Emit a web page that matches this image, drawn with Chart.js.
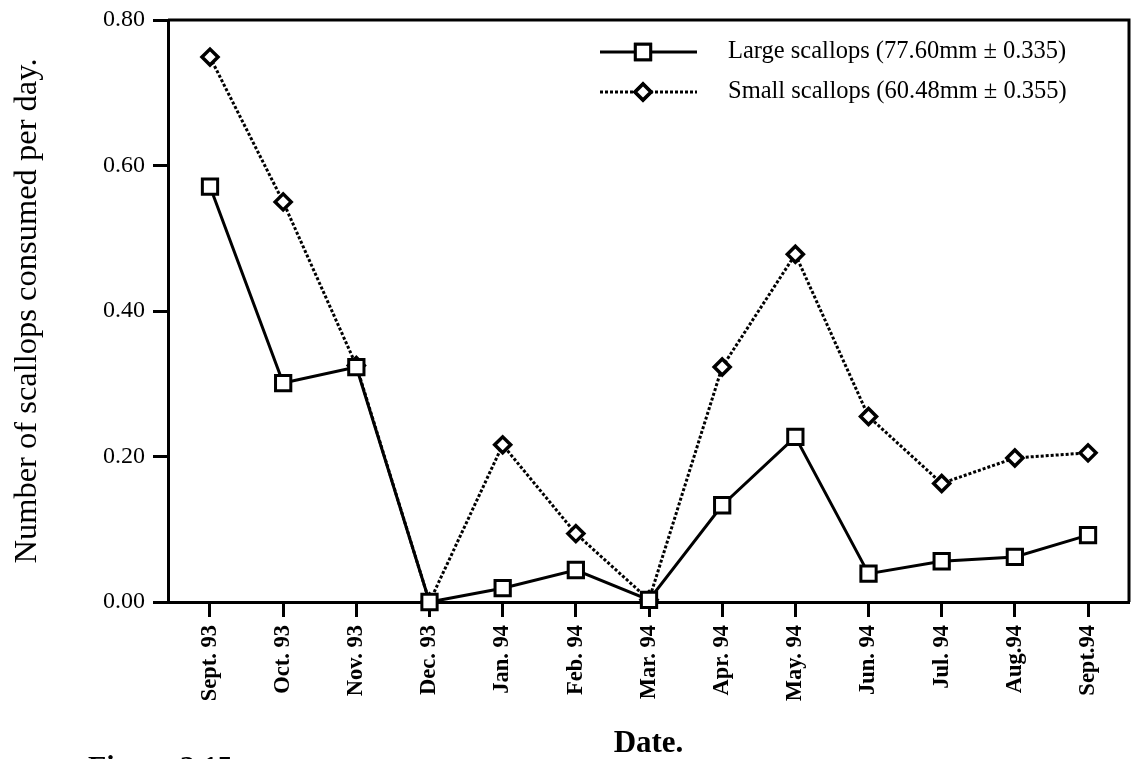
<!DOCTYPE html>
<html>
<head>
<meta charset="utf-8">
<script src="https://cdn.jsdelivr.net/npm/chart.js@4/dist/chart.umd.min.js"></script>
<style>
  html, body { margin: 0; padding: 0; background: #fff; }
  canvas { display: block; }
</style>
</head>
<body>
<canvas id="chart" width="1136" height="759"></canvas>
<script>
'use strict';

// month labels along the x axis
const MONTHS = ['Sept. 93', 'Oct. 93', 'Nov. 93', 'Dec. 93', 'Jan. 94', 'Feb. 94', 'Mar. 94',
                'Apr. 94', 'May. 94', 'Jun. 94', 'Jul. 94', 'Aug.94', 'Sept.94'];

// scallops consumed per day
const LARGE = [0.571, 0.301, 0.323, 0.000, 0.019, 0.044, 0.003, 0.133, 0.227, 0.039, 0.056, 0.062, 0.092];
const SMALL = [0.749, 0.550, 0.325, 0.000, 0.216, 0.094, 0.003, 0.323, 0.478, 0.255, 0.163, 0.198, 0.205];

const Y_TICKS = [0, 0.2, 0.4, 0.6, 0.8];

const LEGEND = [
  { label: 'Large scallops (77.60mm \u00b1 0.335)', style: 'rect',    dash: [],     r: 10.8, bw: 3 },
  { label: 'Small scallops (60.48mm \u00b1 0.355)', style: 'rectRot', dash: [3, 2], r: 8,    bw: 3.5 },
];

const SERIF = "'Liberation Serif', 'Times New Roman', serif";

const toPoints = arr => arr.map((v, i) => ({ x: i, y: v }));

// top + right frame, legend and the cut-off caption
const framePlugin = {
  id: 'frame',
  afterDraw(chart) {
    const { ctx, chartArea: a } = chart;
    ctx.save();
    ctx.strokeStyle = '#000';
    ctx.lineWidth = 3;
    ctx.beginPath();
    ctx.moveTo(a.left, a.top);
    ctx.lineTo(a.right, a.top);
    ctx.lineTo(a.right, a.bottom);
    ctx.stroke();

    LEGEND.forEach((item, i) => {
      const y = 52 + i * 40;
      ctx.lineWidth = 3;
      ctx.setLineDash(item.dash);
      ctx.beginPath();
      ctx.moveTo(600, y);
      ctx.lineTo(697, y);
      ctx.stroke();
      ctx.setLineDash([]);
      ctx.fillStyle = '#fff';
      ctx.lineWidth = item.bw;
      Chart.helpers.drawPoint(ctx, { pointStyle: item.style, radius: item.r, borderWidth: item.bw }, 643, y);
      ctx.fill();
      ctx.stroke();
      ctx.fillStyle = '#000';
      ctx.font = '24.5px ' + SERIF;
      ctx.textBaseline = 'middle';
      ctx.fillText(item.label, 728, y);
    });

    ctx.font = 'bold 30px ' + SERIF;
    ctx.textBaseline = 'alphabetic';
    ctx.fillText('Figure 3.15', 88, 776);
    ctx.restore();
  }
};

new Chart(document.getElementById('chart'), {
  type: 'line',
  data: {
    datasets: [
      {
        label: LEGEND[0].label,
        data: toPoints(LARGE),
        borderColor: '#000',
        borderWidth: 3,
        pointStyle: 'rect',
        pointRadius: 10.8,
        pointBorderWidth: 3,
        pointBackgroundColor: '#fff',
        pointBorderColor: '#000',
        tension: 0,
        clip: false,
      },
      {
        label: LEGEND[1].label,
        data: toPoints(SMALL),
        borderColor: '#000',
        borderWidth: 3,
        borderDash: [3, 2],
        pointStyle: 'rectRot',
        pointRadius: 8,
        pointBorderWidth: 3.5,
        pointBackgroundColor: '#fff',
        pointBorderColor: '#000',
        tension: 0,
        clip: false,
      },
    ]
  },
  options: {
    responsive: false,
    animation: false,
    layout: { autoPadding: false, padding: { top: 20, right: 7, left: 0, bottom: 0 } },
    plugins: {
      legend: { display: false },
      tooltip: { enabled: false },
    },
    scales: {
      x: {
        type: 'linear',
        min: -0.574,
        max: 12.56,
        afterBuildTicks(scale) { scale.ticks = MONTHS.map((_, i) => ({ value: i })); },
        afterFit(scale) {
          scale.height = 157;
          scale.paddingLeft = 0;
          scale.paddingRight = 0;
        },
        border: { color: '#000', width: 3 },
        grid: { drawOnChartArea: false, drawTicks: true, tickLength: 15, tickWidth: 3, tickColor: '#000' },
        ticks: {
          autoSkip: false,
          minRotation: 90,
          maxRotation: 90,
          padding: 8,
          color: '#000',
          font: { family: SERIF, size: 22.5, weight: 'bold' },
          callback: v => MONTHS[v],
        },
        title: {
          display: true,
          text: 'Date.',
          color: '#000',
          font: { family: SERIF, size: 31, weight: 'bold', lineHeight: 1 },
          padding: 0,
        },
      },
      y: {
        min: 0,
        max: 0.8,
        afterBuildTicks(scale) { scale.ticks = Y_TICKS.map(v => ({ value: v })); },
        afterFit(scale) {
          scale.width = 168;
          scale.paddingTop = 0;
          scale.paddingBottom = 0;
        },
        border: { color: '#000', width: 3 },
        grid: { drawOnChartArea: false, drawTicks: true, tickLength: 15, tickWidth: 3, tickColor: '#000' },
        ticks: {
          padding: 8,
          color: '#000',
          font: { family: SERIF, size: 24 },
          callback: v => v.toFixed(2),
        },
        title: {
          display: true,
          text: 'Number of scallops consumed per day.',
          color: '#000',
          font: { family: SERIF, size: 32.5 },
          padding: { top: 8, bottom: 0 },
        },
      }
    }
  },
  plugins: [framePlugin]
});
</script>
</body>
</html>
